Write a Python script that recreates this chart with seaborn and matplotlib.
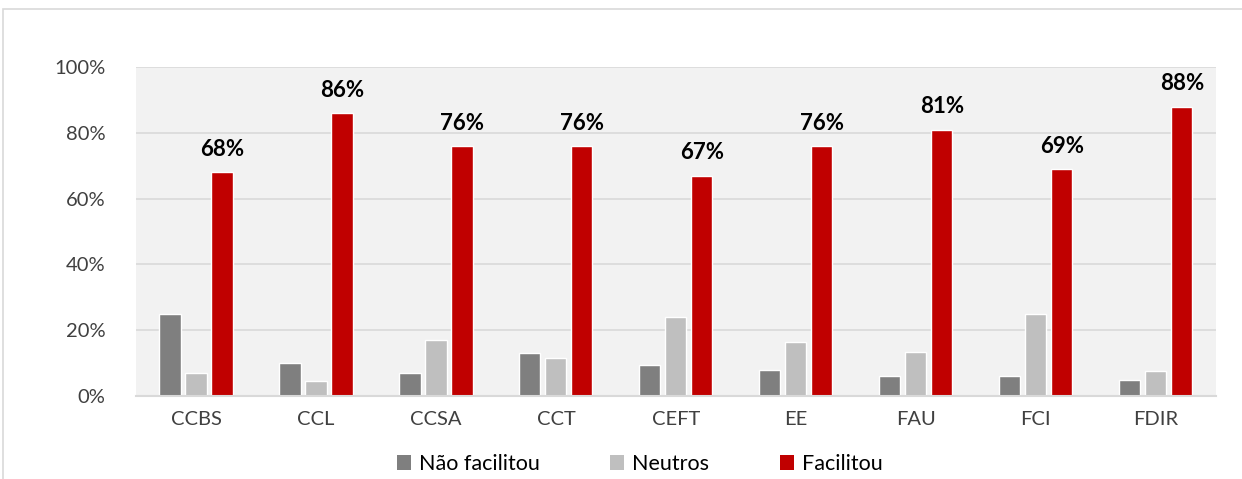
import pandas as pd
import matplotlib.pyplot as plt
import seaborn as sns
from matplotlib.patches import Rectangle, Patch


# valores (proporção)
centros = ['CCBS', 'CCL', 'CCSA', 'CCT', 'CEFT', 'EE', 'FAU', 'FCI', 'FDIR']
nao_facilitou = [0.25, 0.10, 0.07, 0.13, 0.095, 0.08, 0.06, 0.06, 0.05]
neutros = [0.07, 0.045, 0.17, 0.115, 0.24, 0.165, 0.135, 0.25, 0.075]
facilitou = [0.68, 0.86, 0.76, 0.76, 0.67, 0.76, 0.81, 0.69, 0.88]
series = ['Não facilitou', 'Neutros', 'Facilitou']
cores = ['#7F7F7F', '#BFBFBF', '#C00000']

df = pd.DataFrame({'Centro': centros, series[0]: nao_facilitou,
                   series[1]: neutros, series[2]: facilitou})
long_df = df.melt(id_vars='Centro', var_name='Resposta', value_name='Pct')

sns.set_style('white')
plt.rcParams['font.family'] = ['Lato', 'DejaVu Sans']

fig = plt.figure(figsize=(12.42, 4.79), dpi=100)
ax = fig.add_axes([0.1095, 0.1733, 0.8695, 0.6867])

sns.barplot(data=long_df, x='Centro', y='Pct', hue='Resposta', hue_order=series,
            palette=cores, width=0.65, gap=0.19, saturation=1, ax=ax, legend=False)

ax.set_facecolor('#F2F2F2')
ax.set_xlim(-0.5, len(centros) - 0.5)
ax.set_ylim(0, 1)
ax.set_yticks([0, 0.2, 0.4, 0.6, 0.8, 1.0])
ax.set_yticklabels(['0%', '20%', '40%', '60%', '80%', '100%'])
ax.yaxis.grid(True, color='#D9D9D9', linewidth=1.2)
ax.set_axisbelow(True)
for s in ['top', 'right', 'left']:
    ax.spines[s].set_visible(False)
ax.spines['bottom'].set_color('#D9D9D9')
ax.spines['bottom'].set_linewidth(1.5)
ax.tick_params(axis='both', length=0, labelsize=14.5, colors='#404040')
ax.tick_params(axis='y', pad=22)
ax.tick_params(axis='x', pad=11)
ax.set_xlabel('')
ax.set_ylabel('')

# rótulos nas barras de "Facilitou"
for bar, v in zip(ax.containers[2], facilitou):
    ax.annotate(f'{v:.0%}', (bar.get_x() + bar.get_width() / 2, bar.get_height()),
                xytext=(0, 9), textcoords='offset points', ha='center', va='bottom',
                fontsize=16, fontweight='bold', color='black')

handles = [Patch(facecolor=c, edgecolor='none') for c in cores]
fig.legend(handles, series, loc='center', bbox_to_anchor=(0.515, 0.031), ncol=3,
           frameon=False, fontsize=15.5, handlelength=0.65, handleheight=0.65,
           handletextpad=0.35, columnspacing=3.3, labelcolor='black')

# moldura da área do gráfico
fig.patches.append(Rectangle((3 / 1242, -0.1), 1.1, 1 - 9 / 479 + 0.1,
                             transform=fig.transFigure, fill=False,
                             edgecolor='#D9D9D9', linewidth=1.2))

fig.savefig('out.png', dpi=100)
